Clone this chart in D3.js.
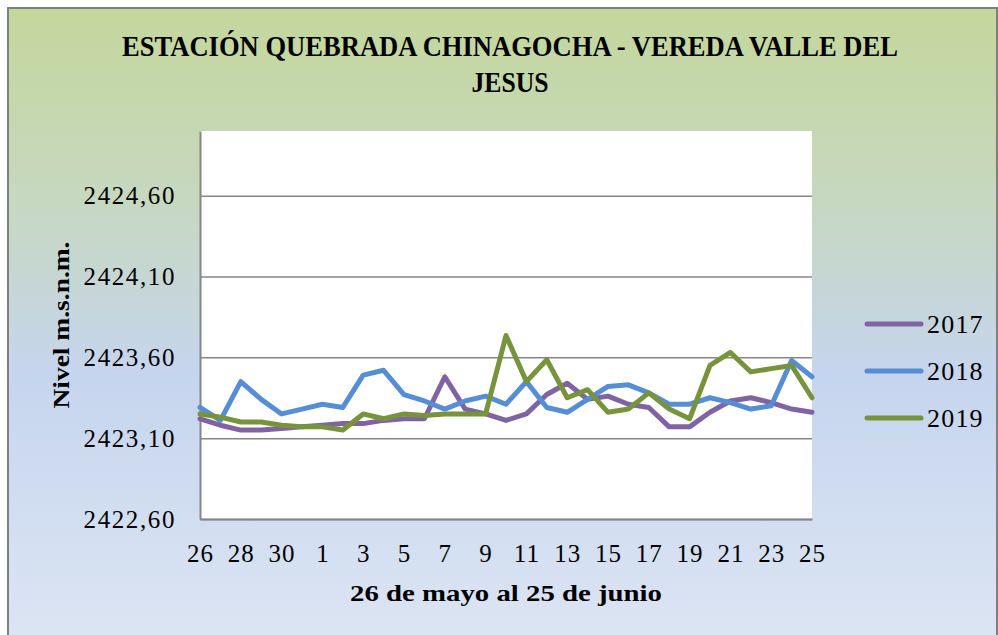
<!DOCTYPE html>
<html>
<head>
<meta charset="utf-8">
<script src="https://cdn.jsdelivr.net/npm/d3@7"></script>
<style>
  body { margin: 0; background: #fff; }
  svg { display: block; }
</style>
</head>
<body>
<div id="chart"></div>
<script>
// Dias del 26 de mayo al 25 de junio
const days = ["26","27","28","29","30","31","1","2","3","4","5","6","7","8","9","10",
              "11","12","13","14","15","16","17","18","19","20","21","22","23","24","25"];

// Nivel (m.s.n.m.)
const nivel2017 = [2423.22,2423.18,2423.15,2423.15,2423.16,2423.17,2423.18,2423.19,2423.19,2423.21,
                   2423.22,2423.22,2423.48,2423.28,2423.25,2423.21,2423.25,2423.37,2423.44,2423.34,
                   2423.36,2423.31,2423.29,2423.17,2423.17,2423.26,2423.33,2423.35,2423.32,2423.28,2423.26];
const nivel2018 = [2423.29,2423.21,2423.45,2423.34,2423.25,2423.28,2423.31,2423.29,2423.49,2423.52,
                   2423.37,2423.33,2423.28,2423.33,2423.36,2423.31,2423.45,2423.29,2423.26,2423.34,
                   2423.42,2423.43,2423.38,2423.31,2423.31,2423.35,2423.32,2423.28,2423.30,2423.58,2423.48];
const nivel2019 = [2423.25,2423.23,2423.20,2423.20,2423.18,2423.17,2423.17,2423.15,2423.25,2423.22,
                   2423.25,2423.24,2423.25,2423.25,2423.25,2423.735,2423.45,2423.585,2423.35,2423.40,
                   2423.26,2423.28,2423.38,2423.28,2423.22,2423.55,2423.63,2423.51,2423.53,2423.55,2423.35];

const years = ["2017", "2018", "2019"];
const yTicks = [2422.6, 2423.1, 2423.6, 2424.1, 2424.6];
const xTicks = days.filter((d, i) => i % 2 === 0);

const series = [
  { key: "2017", values: nivel2017, color: "#8064a2" },
  { key: "2018", values: nivel2018, color: "#558ed5" },
  { key: "2019", values: nivel2019, color: "#77933c" }
];

const W = 998, H = 635;
const plot = { left: 200, right: 812, top: 131, bottom: 519 };
const font = "'Liberation Serif', 'DejaVu Serif', serif";

const svg = d3.select("#chart").append("svg")
    .attr("width", W)
    .attr("height", H);

// Fondo degradado
const grad = svg.append("defs").append("linearGradient")
    .attr("id", "bg")
    .attr("x1", 0).attr("y1", 0).attr("x2", 0).attr("y2", 1);
grad.append("stop").attr("offset", "0%").attr("stop-color", "#c4d79c");
grad.append("stop").attr("offset", "30%").attr("stop-color", "#c6d8bf");
grad.append("stop").attr("offset", "58%").attr("stop-color", "#c6d5ee");
grad.append("stop").attr("offset", "100%").attr("stop-color", "#dce5f3");

svg.append("rect")
    .attr("x", 8).attr("y", 8)
    .attr("width", W - 9).attr("height", H)
    .attr("fill", "url(#bg)")
    .attr("stroke", "#7f7f7f")
    .attr("stroke-width", 2);

// Area de trazado
svg.append("rect")
    .attr("x", plot.left).attr("y", plot.top)
    .attr("width", plot.right - plot.left)
    .attr("height", plot.bottom - plot.top)
    .attr("fill", "#fff");

// Escalas
const x = d3.scalePoint()
    .domain(days)
    .range([plot.left, plot.right]);

const y = d3.scaleLinear()
    .domain([2422.6, 2425.0])
    .range([plot.bottom, plot.top]);

// Eje Y con lineas de cuadricula
const yAxis = svg.append("g")
    .attr("transform", `translate(${plot.left},0)`)
    .call(d3.axisLeft(y)
        .tickValues(yTicks)
        .tickSize(-(plot.right - plot.left))
        .tickSizeOuter(0)
        .tickPadding(24)
        .tickFormat(d => d.toFixed(2).replace(".", ",")));

yAxis.selectAll(".tick line")
    .attr("stroke", "#868686")
    .attr("stroke-width", 1.5);
yAxis.select(".domain")
    .attr("stroke", "#868686")
    .attr("stroke-width", 2);
yAxis.selectAll(".tick text")
    .style("font-family", font)
    .style("font-size", "25px")
    .style("letter-spacing", "1.6px")
    .attr("fill", "#000");

// Eje X
const xAxis = svg.append("g")
    .attr("transform", `translate(0,${plot.bottom})`)
    .call(d3.axisBottom(x)
        .tickValues(xTicks)
        .tickSize(0)
        .tickSizeOuter(0)
        .tickPadding(25));

xAxis.select(".domain")
    .attr("stroke", "#868686")
    .attr("stroke-width", 2);
xAxis.selectAll(".tick text")
    .style("font-family", font)
    .style("font-size", "25px")
    .style("letter-spacing", "1px")
    .attr("fill", "#000");

// Lineas
const line = d3.line()
    .x((d, i) => x(days[i]))
    .y(d => y(d));

svg.selectAll(".serie")
    .data(series)
  .enter().append("path")
    .attr("class", "serie")
    .attr("d", d => line(d.values))
    .attr("fill", "none")
    .attr("stroke", d => d.color)
    .attr("stroke-width", 5)
    .attr("stroke-linejoin", "round")
    .attr("stroke-linecap", "round");

// Titulo
svg.append("text")
    .attr("x", 510).attr("y", 56)
    .attr("text-anchor", "middle")
    .attr("textLength", 776)
    .attr("lengthAdjust", "spacingAndGlyphs")
    .style("font-family", font)
    .style("font-size", "29px")
    .style("font-weight", "bold")
    .text("ESTACIÓN QUEBRADA CHINAGOCHA - VEREDA VALLE DEL");

svg.append("text")
    .attr("x", 510).attr("y", 92)
    .attr("text-anchor", "middle")
    .attr("textLength", 77)
    .attr("lengthAdjust", "spacingAndGlyphs")
    .style("font-family", font)
    .style("font-size", "29px")
    .style("font-weight", "bold")
    .text("JESUS");

// Titulos de ejes
svg.append("text")
    .attr("transform", "translate(69,325) rotate(-90)")
    .attr("text-anchor", "middle")
    .attr("textLength", 167)
    .attr("lengthAdjust", "spacingAndGlyphs")
    .style("font-family", font)
    .style("font-size", "23px")
    .style("font-weight", "bold")
    .text("Nivel m.s.n.m.");

svg.append("text")
    .attr("x", 506).attr("y", 601)
    .attr("text-anchor", "middle")
    .attr("textLength", 312)
    .attr("lengthAdjust", "spacingAndGlyphs")
    .style("font-family", font)
    .style("font-size", "24px")
    .style("font-weight", "bold")
    .text("26 de mayo al 25 de junio");

// Leyenda
const legend = svg.selectAll(".legend")
    .data(series)
  .enter().append("g")
    .attr("class", "legend")
    .attr("transform", (d, i) => `translate(0,${324 + i * 47})`);

legend.append("line")
    .attr("x1", 867).attr("x2", 921)
    .attr("stroke", d => d.color)
    .attr("stroke-width", 5)
    .attr("stroke-linecap", "round");

legend.append("text")
    .attr("x", 927)
    .attr("y", 9)
    .style("font-family", font)
    .style("font-size", "26px")
    .style("letter-spacing", "1.2px")
    .text(d => d.key);
</script>
</body>
</html>
